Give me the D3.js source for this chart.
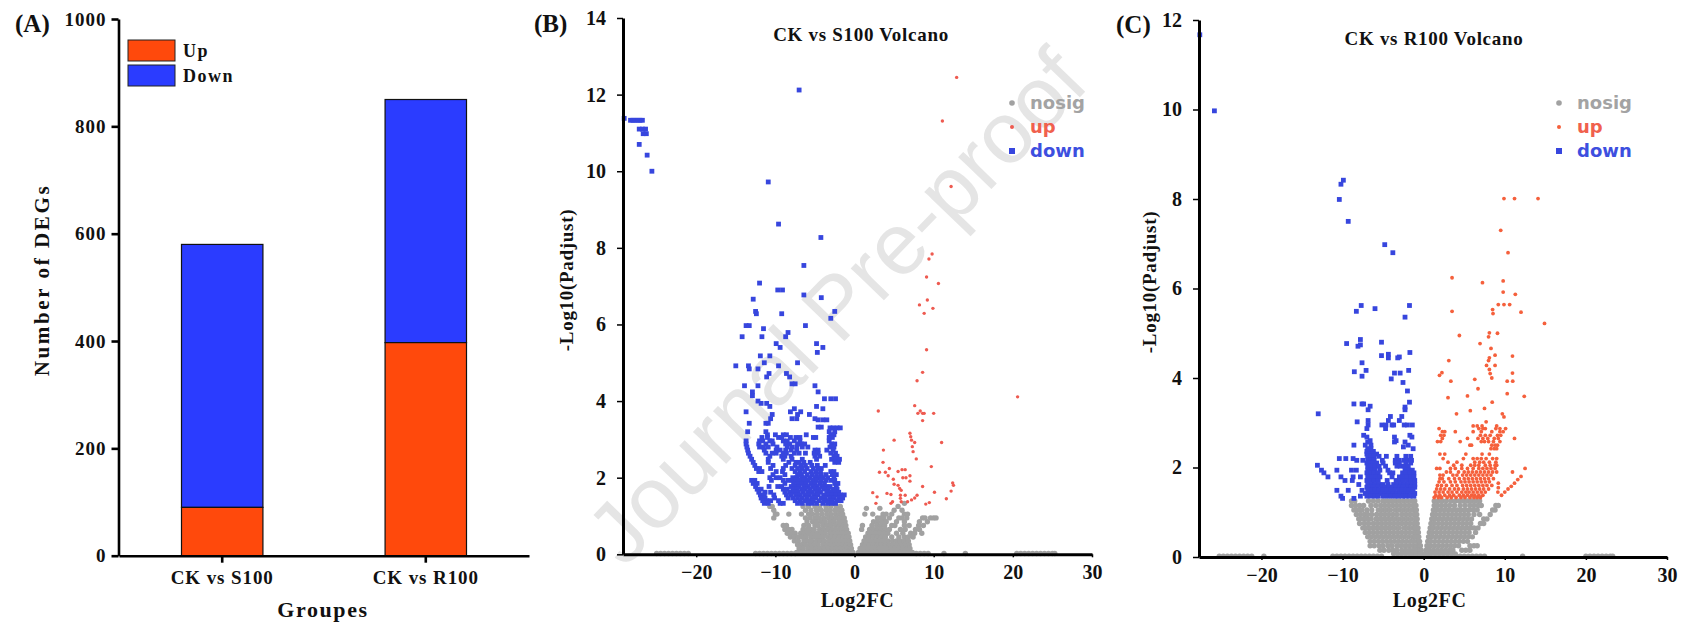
<!DOCTYPE html>
<html lang="en">
	<head>
		<meta charset="UTF-8" />
		<title>DEGs and volcano plots</title>
		<style>
			html,
			body {
				margin: 0;
				padding: 0;
				background-color: #fff;
				overflow: hidden;
			}

			text {
				font-family: 'Liberation Serif', serif;
				font-weight: bold;
				fill: #111;
			}

			.axis path,
			.axis line {
				stroke: #000;
			}

			.legend-label {
				font-family: 'DejaVu Sans', sans-serif;
				font-size: 18px;
			}

			.watermark {
				font-family: 'Liberation Sans', sans-serif;
				font-weight: normal;
				font-size: 87px;
				fill: #e5e5e5;
			}
		</style>
	</head>
	<body>
		<svg id="chart" width="1688" height="628"></svg>

		<script src="https://d3js.org/d3.v7.min.js"></script>

		<script>
			// panel A
			const groups = ['CK vs S100', 'CK vs R100'];
			const upCounts = [90, 397];
			const downCounts = [490, 453];
			const barTicks = [0, 200, 400, 600, 800, 1000];
			const barLegend = ['Up', 'Down'];

			// volcano panels, every row is [-log10(padj), log2FC, log2FC, ...]
			const volcanoTicksX = [-20, -10, 0, 10, 20, 30];
			const legendNames = ['nosig', 'up', 'down'];

			const downS100 = [
				[12.12, -7], [11.38, -29.1], [11.33, -28.3, -28, -27.7, -27.4, -27.1, -26.8], [11.1, -27.2, -26.8, -26.4],
				[10.98, -26.7, -26.3], [10.7, -27.2], [10.42, -26.2], [10, -25.6], [9.72, -10.9], [8.62, -9.6], [8.27, -4.25],
				[7.54, -6.4], [7.08, -12], [6.9, -9.7, -9.1], [6.77, -6.4], [6.7, -4.2], [6.66, -12.8], [6.34, -12.5, -2.5],
				[6.28, -12.4, -9.2], [6.16, -3], [5.97, -13.7, -13.3, -6.2], [5.89, -11.5], [5.79, -8.4], [5.68, -14.2, -8.7, -11.7],
				[5.5, -9.9, -4.8], [5.4, -9.4, -4], [5.27, -4.7], [5.18, -11.9, -10.7], [5, -11.4, -7.2], [4.92, -15, -13.4, -9.6],
				[4.84, -13.3, -12.2], [4.72, -10.8, -8.6], [4.63, -11.1, -8.2], [4.45, -7.9, -7.5], [4.4, -13.9, -12.2, -5],
				[4.24, -12.9, -4.6], [4.14, -12.9], [4.06, -3.8, -3, -2.4], [4, -12.2], [3.94, -11.8, -11.1], [3.86, -10.7, -4.8],
				[3.8, -7.6, -4], [3.72, -13.7, -8.1, -6.8], [3.65, -10.4, -7.2, -5.7], [3.54, -10.6, -7.9, -7.3, -5], [3.51, -4.6, -4, -3.5],
				[3.42, -10.9, -11.2, -13.3], [3.32, -4.6, -4.2], [3.3, -3.1, -2.7, -2.2, -1.8], [3.2, -13.5, -11.2, -3.2, -2.5],
				[3.12, -11, -10, -9, -8.6, -6.1, -3, -2.6], [3.05, -11.7, -11, -9.6, -9.2, -8.1, -7.4, -6.9, -5.2, -4.9, -3.2, -2.8],
				[2.96, -13.7, -12, -11.6, -10.7, -10.4, -9, -8.5, -7.6, -6.9, -3.2], [2.88, -13.7, -12.1, -11.2, -10.3, -8.7, -8.2, -7.2, -6.7, -6.3, -2.9, -2.5],
				[2.8, -13.6, -12, -11.5, -10.9, -9.8, -8.5, -7.9, -7.3, -6.6, -5.9, -3.1, -2.6],
				[2.72, -13.5, -11.4, -9.9, -9.4, -8.7, -8, -7.3, -5, -4.6, -3.5, -2.7],
				[2.64, -13.4, -11.2, -10.4, -9.9, -9, -8.6, -7.6, -7, -6.2, -5.1, -4.6, -3, -2.4],
				[2.56, -13.2, -10.7, -9.2, -8.8, -8, -5, -4.4, -2.6, -2.2], [2.48, -13, -10.9, -9, -7.9, -6.6, -4.8, -2.9, -2.4, -1.9],
				[2.4, -12.8, -10.9, -8.3, -7.4, -7, -6.4, -5.6, -2.5, -2], [2.32, -12.6, -10.3, -8.7, -7.5, -6.8, -6.2, -5.4, -4.7, -3.7],
				[2.24, -12.4, -12, -10.6, -9, -7.9, -7.2, -6.6, -6, -5.2, -4.6, -4.2], [2.16, -12.1, -11.7, -9.9, -9.1, -7.5, -6.9, -6.3, -5.5, -4.9, -4.3, -3, -2.6],
				[2.08, -10.3, -8.8, -7.2, -6.7, -6, -5.4, -4.8, -4.2, -3.6, -2.8, -2.3], [2, -10.7, -9.9, -9.4, -7.8, -7.3, -6.7, -6.2, -5.6, -5, -4.5, -4, -3.4, -2.6],
				[1.93, -13, -12.6, -10.5, -9, -8.4, -7.9, -7.4, -6.9, -6.4, -5.9, -5.3, -4.8, -4.2, -3.6, -3, -2.5],
				[1.85, -12.8, -12.3, -8.8, -7.7, -7.1, -6.6, -6.1, -5.5, -5, -4.4, -3.8, -2.5, -2.1],
				[1.77, -12.5, -10.8, -9.7, -9.2, -8, -7.5, -7, -6.4, -5.9, -5.3, -4.7, -4.1, -3.6, -3.1, -2.3],
				[1.7, -12.3, -11.8, -9, -8.5, -7.8, -7.3, -6.7, -6.2, -5.6, -5, -4.5, -3.9, -3.3, -2.7, -2.2],
				[1.62, -12.1, -11.3, -10.6, -8.8, -8.2, -7.6, -7.1, -6.5, -5.9, -5.4, -4.8, -4.3, -3.5, -3, -2.5, -2],
				[1.55, -11.9, -11.4, -10.2, -8.6, -8, -7.4, -6.9, -6.3, -5.7, -5.1, -4.6, -3.9, -3.3, -2.8, -2.3, -1.8, -1.3],
				[1.47, -11.8, -11.3, -10.1, -8.4, -7.8, -7.2, -6.6, -6, -5.4, -4.9, -4.2, -3.7, -3.1, -2.6, -2, -1.5],
				[1.4, -11.6, -11.1, -10.6, -9.6, -7.5, -6.9, -6.3, -5.7, -5.2, -4.5, -3.9, -3.3, -2.8, -2.2, -1.7],
				[1.33, -11.4, -10.9, -9.4, -9, -7.2, -6.6, -5.9, -5.4, -4.8, -4, -3.4, -2.9, -2.4]
			];

			const upS100 = [
				[12.45, 12.9], [11.31, 11.1], [9.6, 12.2], [7.84, 9.8], [7.71, 9.4], [7.24, 9.1], [7.07, 10.6], [6.64, 9.2], [6.51, 8.2],
				[6.42, 9.9], [6.29, 8.8], [5.34, 9.1], [4.75, 8.6], [4.53, 7.9], [4.11, 20.6], [3.88, 7.6], [3.74, 3, 8.3], [3.68, 8, 8.6, 8.8, 10],
				[3.49, 8.6], [3.16, 7], [3.07, 7.1], [2.98, 7.2, 5], [2.92, 7.6, 11], [2.81, 7.3], [2.72, 3.65], [2.68, 7.4], [2.49, 7.8],
				[2.4, 3.6], [2.29, 9.7], [2.24, 4.4], [2.21, 6, 6.4], [2.16, 5.5], [2.14, 3.15, 3.9], [2.05, 7, 4.25], [2, 6.5, 6.1],
				[1.96, 4.9], [1.91, 7], [1.86, 12.4], [1.83, 5], [1.8, 5.5, 12.5], [1.77, 8.6], [1.72, 5.7], [1.67, 5.9], [1.65, 12.2],
				[1.62, 10.1], [1.61, 2.3], [1.59, 4.1], [1.56, 4.6], [1.54, 5.8, 6.4, 7.9], [1.5, 2.85], [1.47, 7.6], [1.46, 5.8], [1.45, 11.6],
				[1.42, 7.2], [1.37, 4.8, 5.9, 6.7], [1.35, 9.45], [1.33, 2.7, 4.6], [1.31, 9]
			];

			const nosigS100 = [
				[1.25, -10.7, -10.4, -6.5, -5.8, -5, -4.4, -3.6, -3, -2.3, -1.8, 5.5], [1.33, 6.3], [1.2, 1.5, 3.2], [1.15, -10.2, -6.2, -5.5, -4.8, -4.2, -3.6, -3.1, -2.5, -2, -1.6, 5, 6],
				[1.05, -10, -9.8, -8.3, -6.7, -5.8, -5.3, -4.7, -4.1, -3.5, -3, -2.4, -1.9, -1.5, 1.3, 2.3, 3.6, 4, 4.7, 6.3, 6.7],
				[0.95, -10.2, -6.2, -5.6, -5, -4.5, -3.9, -3.3, -2.8, -2.3, -1.8, -1.3, 2.9, 3.3, 3.7, 4.4, 5.6, 6, 6.6, 8.6, 8.9, 9.6, 10, 10.3],
				[0.85, -6, -5.3, -4.8, -4.2, -3.7, -3.1, -2.6, -2, -1.5, -1.2, 2.4, 2.9, 3.5, 4, 5.3, 6.3, 8.2, 9.2],
				[0.75, -9, -8.6, -6.4, -5.8, -5, -4.6, -4, -3.5, -3, -2.4, -1.9, -1.4, -1.1, 1, 2.2, 2.8, 3.3, 3.8, 4.7, 5.1, 6.3, 6.9, 8.1, 8.7],
				[0.65, -8.8, -8.3, -7.9, -6.5, -6, -5.5, -5.1, -4.4, -3.9, -3.3, -2.8, -2.3, -1.8, -1.3, -1, 0.9, 1.9, 2.4, 2.9, 3.4, 3.9, 4.4, 5.8, 6.4, 7.7, 8.2],
				[0.55, -8.5, -8, -7.5, -6.8, -6.3, -5.8, -5.2, -4.7, -4.2, -3.7, -3.1, -2.6, -2.1, -1.6, -1.1, -0.8, 1.7, 2.2, 2.7, 3.2, 3.7, 4.2, 5.3, 6.1, 7.1, 7.6, 8.5],
				[0.45, -8.1, -7.6, -7.1, -6.6, -6.1, -5.5, -5, -4.5, -4, -3.4, -2.9, -2.4, -1.9, -1.4, -1, -0.7, 1.4, 1.9, 2.4, 2.9, 3.4, 3.9, 4.7, 5.6, 6.3, 6.8, 7.4],
				[0.35, -7.6, -7.1, -6.4, -5.9, -5.4, -4.8, -4.3, -3.8, -3.2, -2.7, -2.2, -1.7, -1.2, -0.8, -0.6, 1.2, 1.7, 2.2, 2.7, 3.2, 3.7, 4.2, 4.8, 5.3, 5.8, 6.3, 6.8],
				[0.25, -7.2, -6.7, -6.2, -5.6, -5.1, -4.6, -4, -3.5, -3, -2.5, -2, -1.5, -1, -0.7, -0.5, 1, 1.4, 1.9, 2.4, 2.9, 3.4, 3.9, 4.4, 4.9, 5.4, 5.9, 6.4, 6.9],
				[0.15, -7, -6.5, -5.9, -5.4, -4.9, -4.3, -3.8, -3.3, -2.8, -2.3, -1.8, -1.3, -0.9, -0.5, -0.4, 0.7, 1.1, 1.6, 2.1, 2.6, 3.1, 3.6, 4.1, 4.6, 5.1, 5.6, 6.1, 6.6, 7],
				[0.05, -7.3, -6.8, -6.2, -5.7, -5.1, -4.6, -4.1, -3.6, -3.1, -2.5, -2, -1.5, -1.1, -0.7, -0.4, -0.2, 0.5, 0.9, 1.3, 1.8, 2.3, 2.8, 3.3, 3.8, 4.3, 4.8, 5.3, 5.8, 6.3, 6.8, 7.3],
				[0.02, -25, -24.5, -24, -23.5, -23, -22.5, -22, -21.5, -21, -12.5, -12, -11.5, -11, -10.5, -10, -9.5, -9, -8.5, -8, -7.5, 7.8, 8.3, 8.8, 9.3, 11.3, 14, 20.5, 21, 21.5, 22, 22.5, 23, 23.5, 24, 24.5, 25, 25.3]
			];

			const downR100 = [
				[11.67, -27.6], [9.97, -25.8], [8.42, -9.9], [8.33, -10.2], [7.99, -10.4], [7.5, -9.3], [6.98, -4.8], [6.8, -3.8], [5.62, -7.7, -1.75],
				[5.55, -6], [5.49, -8.3], [5.36, -2.3], [4.86, -7.8], [4.8, -5.2], [4.77, -9.5], [4.74, -7.8], [4.71, -8.1], [4.57, -1.7], [4.53, -4.35],
				[4.5, -5.2], [4.47, -3], [4.45, -4.35, -3.2], [4.34, -7.6], [4.17, -7.1, -1.85], [4.14, -8.55], [4.11, -3.6, -2.9], [4.04, -7.6], [3.98, -4],
				[3.9, -2.55], [3.71, -2], [3.46, -1.75], [3.42, -8.6, -7.6, -7.4], [3.37, -6.6], [3.35, -2.3], [3.29, -2.3, -6.85], [3.2, -13], [3.14, -2.7, -4.1],
				[3.05, -3, -4.35, -6.85], [3.02, -8.2], [2.95, -6.85, -5.15, -4.65, -3.9, -3.7, -2.4, -2, -1.4], [2.87, -7, -4.7], [2.72, -7.4, -1.7], [2.68, -7, -3.6, -1.45],
				[2.6, -3.4, -6.6], [2.57, -3.6, -2.3, -6.9], [2.5, -7.2, -8.6, -1.9, -6.5], [2.46, -2.5], [2.42, -1.3, -6.9, -6.5],
				[2.36, -7, -6.6, -6.2], [2.3, -7, -6.6, -6.2, -5.8], [2.25, -6.9, -6.5, -6.1, -5.5, -4.6, -3.3, -2.2, -1.6], [2.2, -10.4, -9.6, -8.7],
				[2.16, -8.25, -7.5, -6.9, -6.5, -6.1, -5.1, -3.5, -3, -2.4, -2, -1.5], [2.1, -7, -6.6, -6.2, -5.8, -5, -3.5, -3, -2.2, -1.6], [2.05, -13.1],
				[2.03, -6.9, -6.5, -6, -5.5, -4.7, -3.3, -2.9, -2.4, -1.9], [1.94, -12.6, -10.7, -8.9, -8.3, -6.9, -6.4, -6, -5.4, -4.4, -2.3, -1.8, -1.4],
				[1.88, -12.3, -7, -6.5, -6.1, -5.6, -4.2, -3.8, -2.6, -2.2, -1.7, -1.2], [1.79, -11.8, -10.2, -8.7, -7.8, -6.9, -6.4, -5.9, -5.4, -3.9, -3, -2.6, -2.1, -1.6, -1.2],
				[1.71, -9.7, -8.8, -7, -6.5, -6.1, -5.6, -4.5, -3.4, -2.9, -2.5, -2, -1.6, -1.1], [1.62, -8, -6.9, -6.4, -6, -5.5, -5, -4.4, -3.7, -3.3, -2.8, -2.4, -1.9, -1.5, -1.1],
				[1.56, -7, -6.6, -6.2, -5.7, -5.2, -4.8, -4.3, -3.8, -3.4, -2.9, -2.5, -2, -1.6, -1.1], [1.49, -10.7, -9.3, -7.6, -6.9, -6.4, -6, -5.5, -5, -4.5, -4, -3.6, -3.1, -2.7, -2.2, -1.8, -1.3],
				[1.42, -7.2, -6.7, -6.2, -5.8, -5.3, -4.8, -4.3, -3.8, -3.3, -2.9, -2.4, -2, -1.5, -1.1], [1.36, -10.2, -7.8, -7, -6.5, -6, -5.6, -5, -4.5, -4, -3.5, -3.1, -2.6, -2.2, -1.7, -1.2],
				[1.31, -10, -8.6]
			];

			const upR100 = [
				[8.01, 9.9, 11.2, 14.1], [7.3, 9.5], [6.8, 10.4], [6.24, 3.5], [6.17, 9.8], [6.13, 7.25], [5.92, 9.8], [5.87, 11.3], [5.64, 9.2, 9.9, 10.6],
				[5.53, 8.5], [5.49, 3.5], [5.47, 12], [5.44, 8.55], [5.22, 14.9], [5.01, 8.1], [5, 9.1], [4.95, 4.4], [4.92, 8], [4.77, 6.95], [4.66, 8.3],
				[4.51, 8.8], [4.49, 10.95], [4.45, 8.1], [4.39, 8, 3.1], [4.28, 7.75, 8.8], [4.19, 8.1], [4.12, 2.25], [4.11, 10.95], [4.1, 8.2], [4.06, 1.95],
				[4, 8.4], [3.97, 6.3], [3.93, 3.35, 10.3, 10.98], [3.76, 6.7], [3.65, 10.3], [3.6, 5.4], [3.59, 12.4], [3.56, 3], [3.46, 8.45], [3.32, 7.5],
				[3.27, 5.75], [3.2, 4.05, 9.7], [3.13, 9.9], [3.02, 7.7], [2.93, 6.1, 6.6, 7.2, 9], [2.87, 1.9, 6.8, 7.3, 7.6, 8.9, 9.4, 10.1],
				[2.8, 2.3, 2.6, 3.9, 6.1, 7.1, 8.4, 9.4, 9.8], [2.72, 2.1, 2.5, 7, 7.6, 8.2, 9.1, 9.5], [2.65, 2.3, 5.4, 6.7, 7.3, 7.9, 8.7, 9.2, 11.2],
				[2.58, 1.7, 2.1, 4.5, 7.1, 7.5, 8, 8.6, 9.4], [2.5, 5.7, 5.9, 8.4, 8.8, 9.1], [2.42, 8.3, 8.7, 9], [2.3, 2, 2.6, 5.2, 7.2, 8.1],
				[2.2, 2.4, 4.9, 6.1, 6.6, 7.1, 7.7, 8.5, 9], [2.12, 3, 4.1, 6.3, 6.9, 7.4, 8.1, 8.9], [2.05, 3.7, 4.7, 5.8, 6.3, 6.8, 7.6, 8.2, 8.8, 9],
				[1.98, 1.6, 2, 3.3, 3.9, 4.7, 5.4, 6.1, 6.8, 7.3, 7.8, 8.3, 8.8, 12.5], [1.9, 2.8, 3.3, 4.3, 5, 5.5, 6, 6.5, 7, 7.5, 8, 8.5, 9, 10.95],
				[1.83, 2, 2.4, 3.6, 4.1, 4.8, 5.3, 5.8, 6.3, 6.8, 7.3, 7.8, 8.3], [1.8, 12], [1.75, 2, 2.3, 3.1, 3.8, 4.4, 5, 5.5, 6, 6.5, 7, 7.5, 8, 8.6],
				[1.73, 11.6], [1.68, 1.9, 2.5, 3.3, 3.9, 4.6, 5.1, 5.6, 6.1, 6.6, 7.1, 7.6, 8.1], [1.65, 9.2, 11.2],
				[1.6, 1.7, 2.2, 2.8, 3.5, 4.1, 4.8, 5.3, 5.8, 6.3, 6.8, 7.3, 7.8, 8.4], [1.58, 10.8], [1.55, 9.2],
				[1.52, 1.6, 2.1, 2.6, 3.2, 3.8, 4.3, 4.9, 5.4, 5.9, 6.4, 6.9, 7.4, 8, 10.4], [1.45, 1.4, 1.9, 2.4, 3, 3.5, 4.1, 4.7, 5.2, 5.6, 6.1, 6.6, 7.1, 7.6, 9.15, 10],
				[1.38, 1.5, 2, 2.6, 3.2, 3.7, 4.4, 4.9, 5.4, 5.9, 6.3, 6.8, 7.3, 9.6], [1.33, 1.3, 1.8, 2.2, 2.9, 3.4, 4, 4.6, 5.1, 5.7, 6.2, 6.6, 7]
			];

			const nosigR100 = [
				[1.25, -8.9, -8.5, -6.8, -6.2, -5.6, -5, -4.5, -4, -3.5, -3, -2.5, -2, -1.5, -1.1, 1.3, 1.8, 2.3, 2.8, 3.4, 3.9, 4.4, 4.9, 5.4, 5.9, 6.4, 6.9],
				[1.15, -8.9, -8.4, -7.9, -7.4, -6.5, -5.9, -5.3, -4.8, -4.3, -3.8, -3.3, -2.8, -2.3, -1.8, -1.3, -0.95, 1.3, 1.7, 2.2, 2.7, 3.2, 3.8, 4.5, 5.1, 5.7, 6.2, 6.7, 7.1, 8.9, 9.2],
				[1.05, -8.6, -8.1, -7.6, -7, -6.4, -5.6, -5.1, -4.6, -4.1, -3.5, -3, -2.5, -2, -1.5, -1.1, -0.9, 1.2, 1.6, 2.1, 2.6, 3.1, 3.6, 4.1, 4.6, 5.1, 5.6, 6.1, 6.6, 8.5, 8.8],
				[0.95, -8.3, -7.8, -7.3, -6.9, -6.4, -5.8, -5.3, -4.8, -4.3, -3.8, -3.3, -2.7, -2.2, -1.7, -1.2, -0.85, 1.1, 1.5, 2, 2.5, 3, 3.5, 4, 4.5, 5, 5.5, 6.2, 6.9, 8.2],
				[0.85, -8, -7.5, -7, -6.5, -5.9, -5.5, -5, -4.5, -4, -3.5, -3, -2.5, -2, -1.5, -1, -0.8, 1, 1.4, 1.9, 2.4, 2.9, 3.4, 3.9, 4.4, 4.9, 5.4, 5.9, 7.4, 7.8],
				[0.75, -7.9, -7.3, -6.8, -6.2, -5.7, -5.2, -4.7, -4.2, -3.7, -3.2, -2.7, -2.2, -1.7, -1.2, -0.8, 0.9, 1.3, 1.8, 2.3, 2.8, 3.3, 3.8, 4.3, 4.8, 5.3, 5.8, 7, 7.4],
				[0.65, -7.5, -7, -6.5, -6, -5.5, -5, -4.5, -4, -3.5, -3, -2.4, -1.9, -1.4, -1, -0.7, 0.8, 1.2, 1.7, 2.2, 2.7, 3.2, 3.7, 4.2, 4.7, 5.2, 5.7, 6.2, 6.7],
				[0.55, -7.2, -6.7, -6.2, -5.7, -5.2, -4.7, -4.2, -3.7, -3.2, -2.7, -2.2, -1.7, -1.2, -0.9, -0.65, 0.7, 1.1, 1.6, 2.1, 2.6, 3.1, 3.6, 4.1, 4.6, 5.1, 5.6, 6.4],
				[0.45, -6.9, -6.4, -5.9, -5.4, -4.9, -4.4, -3.9, -3.4, -2.9, -2.4, -1.9, -1.4, -1, -0.6, 0.6, 1, 1.5, 2, 2.5, 3, 3.5, 4, 4.5, 5, 5.5, 6],
				[0.35, -6.6, -6.1, -5.6, -5.1, -4.6, -4.1, -3.6, -3.1, -2.6, -2.1, -1.6, -1.2, -0.8, -0.5, 0.5, 0.9, 1.4, 1.9, 2.4, 2.9, 3.4, 3.9, 4.4, 4.9, 5.4],
				[0.25, -6.6, -6.1, -5.5, -5, -4.4, -3.9, -3.3, -2.8, -2.3, -1.8, -1.3, -0.9, -0.5, -0.4, 0.4, 0.8, 1.3, 1.8, 2.3, 2.8, 3.3, 3.8, 4.3, 5.7, 6.2, 6.6],
				[0.15, -5.4, -4.9, -4.3, -3.8, -3.3, -2.7, -2.2, -1.7, -1.2, -0.8, -0.4, -0.3, 0.3, 0.7, 1.2, 1.7, 2.2, 2.7, 3.2, 3.6, 4.7, 5.2, 5.7],
				[0.07, -3.7, -3.2, -2.7, -2.2, -1.7, -1.3, -0.9, -0.5, -0.2, 0.2, 0.5, 0.9, 1.4, 1.9, 2.4, 2.9, 3.4, 3.9],
				[0.02, -25.2, -24.7, -24.2, -23.7, -23.2, -22.7, -22.2, -21.7, -21.2, -19.7, -11.2, -10.7, -10.2, -9.7, -9.2, -8.7, -8.2, -7.7, -7.2, -6.7, -6.2, -5.7, -5.2, 4, 4.5, 5, 5.5, 6, 6.5, 7, 7.5, 12.2, 20, 20.5, 21, 21.5, 22, 22.5, 23, 23.3]
			];

			const svg = d3.select('#chart');

			const UP_BAR = '#ff490c';
			const DOWN_BAR = '#2b3cff';

			function fontStyle(sel, size, spacing) {
				sel.style('font-size', size + 'px').style('letter-spacing', spacing + 'px');
			}

			// watermark goes under everything else
			svg.append('text')
				.attr('class', 'watermark')
				.attr('transform', 'translate(836,306) rotate(-46)')
				.attr('text-anchor', 'middle')
				.attr('dy', '0.35em')
				.text('Journal Pre-proof');

			// ---- panel A ----
			const x = d3.scaleBand().domain(groups).range([119, 529]).paddingInner(0.6).paddingOuter(0.307);
			const y = d3.scaleLinear().domain([0, 1000]).range([555.7, 19]);

			const bars = svg.append('g');
			groups.forEach((g, i) => {
				bars.append('rect')
					.attr('x', x(g))
					.attr('width', x.bandwidth())
					.attr('y', y(upCounts[i] + downCounts[i]))
					.attr('height', y(upCounts[i]) - y(upCounts[i] + downCounts[i]))
					.attr('fill', DOWN_BAR)
					.attr('stroke', '#111')
					.attr('stroke-width', 1.2);
				bars.append('rect')
					.attr('x', x(g))
					.attr('width', x.bandwidth())
					.attr('y', y(upCounts[i]))
					.attr('height', y(0) - y(upCounts[i]))
					.attr('fill', UP_BAR)
					.attr('stroke', '#111')
					.attr('stroke-width', 1.2);
			});

			const axisLeftA = svg.append('g')
				.attr('class', 'axis')
				.attr('transform', 'translate(118.5,0)')
				.call(d3.axisLeft(y).tickValues(barTicks).tickFormat(d3.format('d')).tickSize(7).tickSizeOuter(0).tickPadding(5));
			axisLeftA.selectAll('path, line').attr('stroke-width', 2.6);
			axisLeftA.selectAll('text').call(fontStyle, 19, 1);

			const axisBottomA = svg.append('g')
				.attr('class', 'axis')
				.attr('transform', 'translate(0,555.7)')
				.call(d3.axisBottom(x).tickSize(7).tickSizeOuter(0).tickPadding(8));
			axisBottomA.selectAll('path, line').attr('stroke-width', 2.6);
			axisBottomA.selectAll('text').call(fontStyle, 19, 0.9);

			barLegend.forEach((name, i) => {
				svg.append('rect')
					.attr('x', 128)
					.attr('y', 40 + i * 25)
					.attr('width', 47)
					.attr('height', 21)
					.attr('fill', i === 0 ? UP_BAR : DOWN_BAR)
					.attr('stroke', '#222')
					.attr('stroke-width', 1);
				svg.append('text')
					.attr('x', 183)
					.attr('y', 57 + i * 25)
					.text(name)
					.call(fontStyle, 18, 1.5);
			});

			svg.append('text')
				.attr('transform', 'translate(49,280) rotate(-90)')
				.attr('text-anchor', 'middle')
				.text('Number of DEGs')
				.call(fontStyle, 21, 2.6);
			svg.append('text')
				.attr('x', 323)
				.attr('y', 617)
				.attr('text-anchor', 'middle')
				.text('Groupes')
				.call(fontStyle, 22, 1.6);

			// ---- panels B and C ----
			function drawVolcano(p) {
				const vx = d3.scaleLinear().domain(p.xDomain).range(p.xRange);
				const vy = d3.scaleLinear().domain([0, p.yMax]).range(p.yRange);
				const flat = (rows) => rows.flatMap((r) => r.slice(1).map((v) => [v, r[0]]));

				const g = svg.append('g');
				g.append('g')
					.selectAll('circle')
					.data(flat(p.nosig))
					.join('circle')
					.attr('cx', (d) => vx(d[0]))
					.attr('cy', (d) => vy(d[1]))
					.attr('r', 2.7)
					.attr('fill', '#a1a1a1');
				g.append('g')
					.selectAll('circle')
					.data(flat(p.up))
					.join('circle')
					.attr('cx', (d) => vx(d[0]))
					.attr('cy', (d) => vy(d[1]))
					.attr('r', p.upRadius)
					.attr('fill', p.upColor);
				g.append('g')
					.selectAll('rect')
					.data(flat(p.down))
					.join('rect')
					.attr('x', (d) => vx(d[0]) - 2.4)
					.attr('y', (d) => vy(d[1]) - 2.4)
					.attr('width', 4.8)
					.attr('height', 4.8)
					.attr('fill', '#3746de');

				const ay = svg.append('g')
					.attr('class', 'axis')
					.attr('transform', `translate(${p.xRange[0]},0)`)
					.call(d3.axisLeft(vy).tickValues(d3.range(0, p.yMax + 1, 2)).tickSize(6).tickSizeOuter(0).tickPadding(11));
				ay.selectAll('path').attr('stroke-width', 3);
				ay.selectAll('line').attr('stroke-width', 1.5);
				ay.selectAll('text').call(fontStyle, 20, 0);

				const ax = svg.append('g')
					.attr('class', 'axis')
					.attr('transform', `translate(0,${p.yRange[0]})`)
					.call(d3.axisBottom(vx).tickValues(volcanoTicksX).tickSize(3).tickSizeOuter(0).tickPadding(8));
				ax.selectAll('path').attr('stroke-width', 3);
				ax.selectAll('line').attr('stroke-width', 1.5);
				ax.selectAll('text').call(fontStyle, 20, 0);

				svg.append('text')
					.attr('x', p.titleX)
					.attr('y', p.titleY)
					.attr('text-anchor', 'middle')
					.text(p.title)
					.call(fontStyle, 19, 0.7);
				svg.append('text')
					.attr('transform', `translate(${p.yTitleX},${p.yTitleY}) rotate(-90)`)
					.attr('text-anchor', 'middle')
					.text('-Log10(Padjust)')
					.call(fontStyle, 19, 0.7);
				svg.append('text')
					.attr('x', vx(0) + p.xTitleShift)
					.attr('y', 607)
					.attr('text-anchor', 'middle')
					.text('Log2FC')
					.call(fontStyle, 20, 0.6);

				// legend
				const colors = ['#a1a1a1', p.upColor, '#3746de'];
				const textColors = ['#a3a3a3', '#f0604d', '#3d4fdf'];
				legendNames.forEach((name, i) => {
					const ly = 103 + i * 24;
					if (i === 2) {
						svg.append('rect')
							.attr('x', p.legendX - 3)
							.attr('y', ly - 3)
							.attr('width', 6)
							.attr('height', 6)
							.attr('fill', colors[i]);
					} else {
						svg.append('circle')
							.attr('cx', p.legendX)
							.attr('cy', ly)
							.attr('r', i === 0 ? 2.8 : 2)
							.attr('fill', colors[i]);
					}
					svg.append('text')
						.attr('class', 'legend-label')
						.attr('x', p.legendX + 18)
						.attr('y', ly + 6)
						.style('fill', textColors[i])
						.text(name);
				});
			}

			drawVolcano({
				title: 'CK vs S100 Volcano',
				titleX: 861,
				titleY: 41,
				yTitleX: 573,
				yTitleY: 280,
				xTitleShift: 3,
				legendX: 1012,
				xDomain: [-29.25, 30],
				xRange: [623, 1092],
				yMax: 14,
				yRange: [554.3, 18],
				upRadius: 1.7,
				upColor: '#ee5a50',
				nosig: nosigS100,
				up: upS100,
				down: downS100
			});

			drawVolcano({
				title: 'CK vs R100 Volcano',
				titleX: 1434,
				titleY: 45,
				yTitleX: 1156,
				yTitleY: 282,
				xTitleShift: 6,
				legendX: 1559,
				xDomain: [-27.7, 30],
				xRange: [1199, 1667],
				yMax: 12,
				yRange: [557, 20],
				upRadius: 1.9,
				upColor: '#f5603c',
				nosig: nosigR100,
				up: upR100,
				down: downR100
			});

			[['(A)', 15, 32], ['(B)', 534, 32], ['(C)', 1116, 33]].forEach(([label, lx, ly]) => {
				svg.append('text')
					.attr('x', lx)
					.attr('y', ly)
					.text(label)
					.call(fontStyle, 25, 0);
			});
		</script>
	</body>
</html>
